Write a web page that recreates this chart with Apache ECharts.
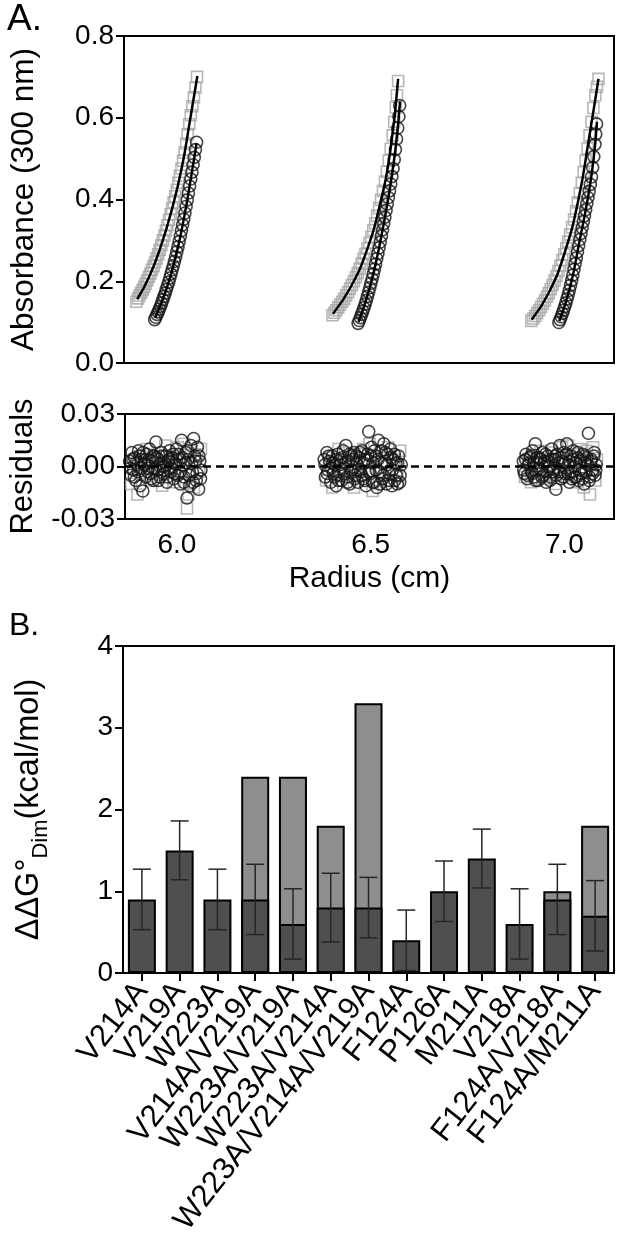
<!DOCTYPE html>
<html><head><meta charset="utf-8">
<script src="https://cdn.jsdelivr.net/npm/echarts@6/dist/echarts.min.js"></script>
<style>html,body{margin:0;padding:0;background:#fff}#c{width:620px;height:1248px}</style>
</head><body><div id="c"></div>
<script>
// ---------- Panel A: absorbance data (radius cm, absorbance) ----------
const sq1 = [[5.898,0.150],[5.902,0.158],[5.906,0.165],[5.910,0.172],[5.914,0.179],[5.918,0.186],[5.922,0.194],[5.926,0.202],[5.930,0.211],[5.934,0.219],[5.938,0.228],[5.942,0.237],[5.946,0.247],[5.950,0.256],[5.954,0.266],[5.958,0.277],[5.962,0.288],[5.966,0.300],[5.970,0.312],[5.974,0.324],[5.978,0.337],[5.982,0.350],[5.986,0.364],[5.990,0.378],[5.994,0.393],[5.998,0.408],[6.002,0.424],[6.006,0.441],[6.010,0.458],[6.014,0.476],[6.018,0.495],[6.022,0.515],[6.026,0.537],[6.030,0.560],[6.034,0.584],[6.038,0.606],[6.042,0.628],[6.046,0.650],[6.050,0.674],[6.054,0.700]];
const ci1 = [[5.945,0.106],[5.948,0.112],[5.951,0.119],[5.954,0.125],[5.957,0.132],[5.960,0.139],[5.963,0.147],[5.966,0.155],[5.969,0.163],[5.972,0.171],[5.975,0.180],[5.978,0.189],[5.981,0.198],[5.984,0.208],[5.987,0.218],[5.990,0.228],[5.993,0.238],[5.996,0.249],[5.999,0.260],[6.002,0.272],[6.005,0.284],[6.008,0.297],[6.011,0.310],[6.014,0.324],[6.017,0.338],[6.020,0.352],[6.023,0.367],[6.026,0.383],[6.029,0.399],[6.032,0.416],[6.035,0.433],[6.038,0.450],[6.041,0.467],[6.044,0.485],[6.047,0.503],[6.050,0.522],[6.053,0.540]];
const sq2 = [[6.403,0.117],[6.408,0.123],[6.413,0.129],[6.418,0.136],[6.423,0.143],[6.428,0.150],[6.433,0.157],[6.438,0.165],[6.443,0.173],[6.448,0.182],[6.453,0.191],[6.458,0.200],[6.463,0.210],[6.468,0.220],[6.473,0.231],[6.478,0.243],[6.483,0.255],[6.488,0.267],[6.493,0.280],[6.498,0.294],[6.503,0.309],[6.508,0.325],[6.513,0.342],[6.518,0.360],[6.523,0.379],[6.528,0.399],[6.533,0.421],[6.538,0.444],[6.543,0.468],[6.548,0.495],[6.553,0.524],[6.558,0.557],[6.562,0.590],[6.566,0.625],[6.569,0.655],[6.572,0.690]];
const ci2 = [[6.469,0.097],[6.472,0.104],[6.475,0.111],[6.478,0.119],[6.481,0.127],[6.484,0.135],[6.487,0.144],[6.490,0.153],[6.493,0.163],[6.496,0.173],[6.499,0.184],[6.502,0.195],[6.505,0.206],[6.508,0.218],[6.511,0.230],[6.514,0.242],[6.517,0.255],[6.520,0.268],[6.523,0.282],[6.526,0.296],[6.529,0.311],[6.532,0.326],[6.535,0.341],[6.538,0.357],[6.541,0.373],[6.544,0.389],[6.547,0.405],[6.550,0.421],[6.553,0.438],[6.556,0.456],[6.559,0.476],[6.562,0.498],[6.565,0.522],[6.568,0.548],[6.571,0.575],[6.574,0.603],[6.576,0.630]];
const sq3 = [[6.915,0.103],[6.920,0.109],[6.925,0.115],[6.930,0.122],[6.935,0.129],[6.940,0.137],[6.945,0.145],[6.950,0.153],[6.955,0.162],[6.960,0.171],[6.965,0.181],[6.970,0.191],[6.975,0.202],[6.980,0.213],[6.985,0.225],[6.990,0.238],[6.995,0.252],[7.000,0.266],[7.005,0.281],[7.010,0.297],[7.015,0.314],[7.020,0.332],[7.025,0.351],[7.030,0.371],[7.035,0.393],[7.040,0.416],[7.045,0.441],[7.050,0.467],[7.055,0.495],[7.060,0.525],[7.065,0.557],[7.070,0.590],[7.075,0.624],[7.080,0.655],[7.084,0.676],[7.088,0.695]];
const ci3 = [[6.986,0.099],[6.989,0.106],[6.992,0.113],[6.995,0.121],[6.998,0.129],[7.001,0.138],[7.004,0.147],[7.007,0.157],[7.010,0.167],[7.013,0.178],[7.016,0.190],[7.019,0.202],[7.022,0.215],[7.025,0.229],[7.028,0.243],[7.031,0.257],[7.034,0.272],[7.037,0.287],[7.040,0.302],[7.043,0.317],[7.046,0.331],[7.049,0.346],[7.052,0.360],[7.055,0.375],[7.058,0.390],[7.061,0.405],[7.064,0.420],[7.067,0.437],[7.070,0.455],[7.073,0.478],[7.076,0.505],[7.079,0.535],[7.081,0.560],[7.083,0.585]];
const fitSq1 = [[5.900,0.156],[5.930,0.209],[5.960,0.283],[5.990,0.378],[6.015,0.478],[6.035,0.588],[6.055,0.702]];
const fitCi1 = [[5.946,0.110],[5.975,0.180],[6.000,0.264],[6.020,0.352],[6.040,0.462],[6.053,0.538]];
const fitSq2 = [[6.404,0.120],[6.450,0.186],[6.490,0.272],[6.524,0.383],[6.552,0.520],[6.572,0.695]];
const fitCi2 = [[6.470,0.100],[6.500,0.188],[6.525,0.292],[6.548,0.410],[6.565,0.522],[6.577,0.640]];
const fitSq3 = [[6.916,0.106],[6.960,0.172],[7.000,0.267],[7.036,0.398],[7.064,0.552],[7.088,0.695]];
const fitCi3 = [[6.987,0.102],[7.015,0.186],[7.040,0.302],[7.060,0.400],[7.075,0.495],[7.084,0.590]];

// ---------- Residuals ----------
const resCi1 = [[5.878,0.003],[5.881,-0.005],[5.884,0.008],[5.888,-0.002],[5.891,0.005],[5.894,-0.008],[5.898,0.001],[5.901,0.009],[5.905,-0.011],[5.908,0.004],[5.912,-0.014],[5.915,0.002],[5.919,-0.006],[5.922,0.007],[5.926,-0.001],[5.929,0.010],[5.933,-0.004],[5.936,0.003],[5.940,-0.008],[5.943,0.006],[5.946,0.014],[5.950,-0.002],[5.953,0.004],[5.957,-0.006],[5.960,0.008],[5.964,0.000],[5.967,-0.004],[5.971,0.006],[5.974,-0.009],[5.978,0.003],[5.981,0.009],[5.985,-0.003],[5.988,0.005],[5.992,-0.007],[5.995,0.002],[5.999,0.010],[6.002,-0.005],[6.006,0.004],[6.009,-0.010],[6.012,0.015],[6.016,0.001],[6.019,-0.006],[6.023,0.008],[6.026,-0.018],[6.029,0.004],[6.033,-0.011],[6.036,0.012],[6.040,-0.003],[6.043,0.016],[6.046,0.006],[6.050,-0.008],[6.053,0.011],[6.056,-0.013],[6.059,0.003],[6.062,-0.002]];
const resCi1b = [[5.880,-0.001],[5.886,0.004],[5.890,-0.006],[5.895,0.002],[5.900,-0.003],[5.904,0.006],[5.909,-0.001],[5.913,0.008],[5.918,0.001],[5.924,-0.003],[5.928,0.004],[5.934,-0.007],[5.938,0.006],[5.944,-0.001],[5.948,0.005],[5.952,-0.008],[5.958,0.002],[5.962,0.006],[5.966,-0.002],[5.972,0.001],[5.976,-0.006],[5.980,0.004],[5.984,-0.001],[5.990,0.007],[5.994,-0.004],[5.998,0.001],[6.004,0.007],[6.008,-0.003],[6.014,0.005],[6.018,-0.009],[6.022,0.002],[6.028,0.009],[6.032,-0.005],[6.038,0.002],[6.042,-0.009],[6.048,0.003],[6.052,-0.004],[6.057,0.006],[6.061,-0.007]];
const resSq1 = [[5.882,-0.010],[5.890,0.004],[5.898,-0.016],[5.906,0.006],[5.914,-0.004],[5.922,0.010],[5.930,-0.008],[5.938,0.002],[5.946,-0.006],[5.954,0.008],[5.962,-0.011],[5.970,0.012],[5.978,-0.002],[5.986,0.005],[5.994,-0.009],[6.002,0.011],[6.010,-0.004],[6.018,0.013],[6.026,-0.024],[6.030,-0.016],[6.036,0.009],[6.044,-0.012],[6.052,0.007],[6.058,-0.003],[6.062,0.010]];
const resCi2 = [[6.380,0.004],[6.383,-0.006],[6.387,0.008],[6.390,-0.002],[6.394,0.003],[6.397,-0.009],[6.401,0.006],[6.404,-0.004],[6.408,0.001],[6.411,-0.011],[6.415,0.007],[6.418,-0.003],[6.422,0.004],[6.425,-0.008],[6.429,0.009],[6.432,-0.001],[6.436,0.012],[6.439,-0.006],[6.443,0.003],[6.446,-0.010],[6.450,0.006],[6.453,-0.002],[6.457,0.008],[6.460,-0.005],[6.464,0.002],[6.467,-0.009],[6.471,0.005],[6.474,-0.003],[6.478,0.009],[6.481,-0.007],[6.485,0.004],[6.488,-0.011],[6.492,0.007],[6.495,0.020],[6.499,-0.004],[6.502,0.011],[6.506,0.002],[6.509,-0.009],[6.513,0.006],[6.516,-0.012],[6.520,0.015],[6.523,-0.003],[6.527,0.009],[6.530,-0.007],[6.534,0.013],[6.537,0.003],[6.541,-0.010],[6.544,0.007],[6.548,-0.004],[6.551,0.010],[6.555,-0.011],[6.558,0.004],[6.562,-0.008],[6.565,0.002],[6.569,-0.010],[6.572,0.006],[6.576,-0.005],[6.579,0.001]];
const resCi2b = [[6.382,0.001],[6.388,-0.004],[6.392,0.006],[6.398,-0.001],[6.402,0.002],[6.407,-0.006],[6.412,0.004],[6.417,-0.008],[6.421,0.001],[6.426,0.005],[6.431,-0.004],[6.435,0.002],[6.440,-0.009],[6.445,0.007],[6.449,-0.002],[6.454,0.004],[6.459,-0.007],[6.463,0.006],[6.468,-0.002],[6.472,0.008],[6.477,-0.005],[6.482,0.002],[6.486,-0.008],[6.491,0.004],[6.496,-0.003],[6.500,0.006],[6.505,-0.009],[6.510,0.009],[6.514,-0.002],[6.519,0.004],[6.524,-0.010],[6.528,0.002],[6.533,-0.005],[6.538,0.008],[6.542,0.001],[6.547,-0.008],[6.552,0.005],[6.556,-0.002],[6.561,0.007],[6.566,-0.005],[6.570,0.002],[6.575,-0.009]];
const resSq2 = [[6.385,-0.008],[6.393,0.005],[6.401,-0.012],[6.409,0.002],[6.417,0.010],[6.425,-0.005],[6.433,0.008],[6.441,-0.009],[6.449,0.003],[6.457,-0.012],[6.465,0.007],[6.473,-0.006],[6.481,0.010],[6.489,-0.003],[6.497,0.013],[6.505,-0.014],[6.513,0.005],[6.521,-0.010],[6.529,0.008],[6.537,-0.004],[6.545,0.011],[6.553,-0.008],[6.561,0.004],[6.569,-0.006],[6.576,0.009]];
const resCi3 = [[6.894,0.003],[6.897,-0.004],[6.901,0.007],[6.904,-0.007],[6.908,0.001],[6.911,0.005],[6.915,-0.003],[6.918,0.009],[6.922,-0.006],[6.925,0.013],[6.929,0.002],[6.932,-0.008],[6.936,0.005],[6.939,-0.002],[6.943,0.008],[6.946,-0.005],[6.950,0.003],[6.953,-0.009],[6.957,0.006],[6.960,0.000],[6.964,-0.006],[6.967,0.010],[6.971,-0.003],[6.974,0.004],[6.978,-0.013],[6.981,0.007],[6.985,-0.002],[6.988,0.012],[6.992,-0.007],[6.995,0.003],[6.999,0.008],[7.002,-0.004],[7.006,0.013],[7.009,0.001],[7.013,-0.009],[7.016,0.006],[7.020,-0.003],[7.023,0.009],[7.027,-0.006],[7.030,0.002],[7.034,0.005],[7.037,-0.008],[7.041,0.003],[7.044,-0.004],[7.048,0.007],[7.051,-0.010],[7.055,0.002],[7.058,0.005],[7.062,0.019],[7.065,-0.006],[7.069,0.004],[7.072,-0.002],[7.076,0.006],[7.079,-0.005],[7.082,0.001]];
const resCi3b = [[6.895,-0.002],[6.900,0.004],[6.905,-0.005],[6.909,0.002],[6.913,0.006],[6.917,-0.004],[6.921,0.002],[6.926,-0.008],[6.930,0.005],[6.934,-0.001],[6.938,0.004],[6.942,-0.006],[6.947,0.002],[6.951,0.007],[6.955,-0.003],[6.959,0.003],[6.963,-0.008],[6.968,0.004],[6.972,-0.001],[6.976,0.006],[6.980,-0.005],[6.984,0.002],[6.989,-0.003],[6.993,0.005],[6.997,-0.006],[7.001,0.002],[7.005,0.007],[7.010,-0.004],[7.014,0.003],[7.018,-0.007],[7.022,0.004],[7.026,0.000],[7.031,-0.006],[7.035,0.008],[7.039,-0.002],[7.043,0.004],[7.047,-0.007],[7.052,0.006],[7.056,-0.003],[7.060,0.001],[7.064,-0.008],[7.068,0.003],[7.073,-0.004],[7.077,0.008],[7.081,-0.002]];
const resSq3 = [[6.898,-0.006],[6.906,0.004],[6.914,-0.009],[6.922,0.006],[6.930,-0.002],[6.938,0.009],[6.946,-0.007],[6.954,0.003],[6.962,-0.005],[6.970,0.008],[6.978,-0.010],[6.986,0.004],[6.994,0.011],[7.002,-0.006],[7.010,0.012],[7.018,-0.003],[7.026,0.007],[7.034,-0.009],[7.042,0.010],[7.050,-0.012],[7.058,0.009],[7.066,-0.016],[7.074,0.011],[7.080,-0.008],[7.084,0.004]];
const radiusTicks = [6.0, 6.5, 7.0];

// ---------- Panel B ----------
const mutants = ['V214A','V219A','W223A','V214A/V219A','W223A/V219A','W223A/V214A','W223A/V214A/V219A','F124A','P126A','M211A','V218A','F124A/V218A','F124A/M211A'];
const ddgMeasured = [0.9,1.5,0.9,0.9,0.6,0.8,0.8,0.4,1.0,1.4,0.6,0.9,0.7];
const ddgAdditive = [null,null,null,2.4,2.4,1.8,3.3,null,null,null,null,1.0,1.8];
const ddgError = [0.37,0.36,0.37,0.43,0.43,0.42,0.37,0.37,0.37,0.36,0.43,0.43,0.43];

const FONT = "'Liberation Sans', Arial, sans-serif";
const chart = echarts.init(document.getElementById('c'), null, {renderer:'canvas'});

const sqStyle = {symbol:'rect', symbolSize:11, itemStyle:{color:'rgba(0,0,0,0)', borderColor:'#a5a5a5', borderWidth:1.6}};
const ciStyle = {symbol:'circle', symbolSize:12, itemStyle:{color:'rgba(0,0,0,0)', borderColor:'#151515', borderWidth:1.6}};
function scat(data, style, xi, yi, z) {
  return Object.assign({type:'scatter', data, xAxisIndex:xi, yAxisIndex:yi, z, silent:true, animation:false, large:false}, style);
}
function fit(data) {
  return {type:'line', data, xAxisIndex:0, yAxisIndex:0, smooth:true, showSymbol:false, symbol:'none', z:5,
    lineStyle:{color:'#000', width:2.5}, animation:false, silent:true};
}

const errData = ddgMeasured.map((v,i)=>[i, v-ddgError[i], v+ddgError[i]]);

const axisLineStyle = {lineStyle:{color:'#000', width:2}};
const tickStyle = {show:true, length:8, lineStyle:{color:'#000', width:2}};
const labStyle = {color:'#000', fontSize:28, fontFamily:FONT};

const option = {
  animation:false,
  textStyle:{fontFamily:FONT},
  graphic:[
    {type:'text', left:7, top:1, style:{text:'A.', fontSize:37, fontFamily:FONT, fill:'#000'}},
    {type:'text', left:9, top:610, style:{text:'B.', fontSize:32, fontFamily:FONT, fill:'#000'}}
  ],
  grid:[
    {left:123, right:6, top:36, height:327, show:true, borderColor:'#000', borderWidth:2},
    {left:123, right:6, top:414, height:105, show:true, borderColor:'#000', borderWidth:2},
    {left:123, right:6, top:646, height:327, show:true, borderColor:'#000', borderWidth:2}
  ],
  xAxis:[
    {type:'value', gridIndex:0, min:5.866, max:7.128, axisLine:{show:false}, axisTick:{show:false}, axisLabel:{show:false}, splitLine:{show:false}},
    {type:'value', gridIndex:1, min:5.866, max:7.128, axisLine:{show:false}, axisTick:{show:false}, splitLine:{show:false},
      axisLabel:Object.assign({customValues:radiusTicks, margin:12, formatter:v=>v.toFixed(1)}, labStyle),
      name:'Radius (cm)', nameLocation:'middle', nameGap:45, nameTextStyle:{fontSize:30, color:'#000', fontFamily:FONT}},
    {type:'category', gridIndex:2, data:mutants, axisLine:axisLineStyle, axisTick:Object.assign({alignWithLabel:true}, tickStyle),
      axisLabel:{rotate:52, margin:13, interval:0, color:'#000', fontSize:31, fontFamily:FONT}}
  ],
  yAxis:[
    {type:'value', gridIndex:0, min:0, max:0.8, interval:0.2, axisLine:axisLineStyle, axisTick:tickStyle, splitLine:{show:false},
      axisLabel:Object.assign({margin:10, formatter:v=>v.toFixed(1)}, labStyle),
      name:'Absorbance (300 nm)', nameLocation:'middle', nameGap:84, nameRotate:90, nameTextStyle:{fontSize:31.5, color:'#000', fontFamily:FONT}},
    {type:'value', gridIndex:1, min:-0.03, max:0.03, interval:0.03, axisLine:axisLineStyle, axisTick:tickStyle, splitLine:{show:false},
      axisLabel:Object.assign({margin:10, formatter:v=>v.toFixed(2)}, labStyle),
      name:'Residuals', nameLocation:'middle', nameGap:86, nameRotate:90, nameTextStyle:{fontSize:31, color:'#000', fontFamily:FONT}},
    {type:'value', gridIndex:2, min:0, max:4, interval:1, axisLine:axisLineStyle, axisTick:tickStyle, splitLine:{show:false},
      axisLabel:Object.assign({margin:10}, labStyle),
      name:'{m|ΔΔG°}{s|Dim}{m|(kcal/mol)}', nameLocation:'middle', nameGap:78, nameRotate:90,
      nameTextStyle:{color:'#000', fontFamily:FONT, rich:{
        m:{fontSize:32.5, lineHeight:32, verticalAlign:'top', fontFamily:FONT, color:'#000'},
        s:{fontSize:22, lineHeight:22, verticalAlign:'top', padding:[17,0,0,0], fontFamily:FONT, color:'#000'}}}}
  ],
  series:[
    scat(sq1, sqStyle, 0, 0, 2), scat(sq2, sqStyle, 0, 0, 2), scat(sq3, sqStyle, 0, 0, 2),
    scat(ci1, ciStyle, 0, 0, 3), scat(ci2, ciStyle, 0, 0, 3), scat(ci3, ciStyle, 0, 0, 3),
    fit(fitSq1), fit(fitCi1), fit(fitSq2), fit(fitCi2), fit(fitSq3), fit(fitCi3),
    scat(resSq1, sqStyle, 1, 1, 2), scat(resSq2, sqStyle, 1, 1, 2), scat(resSq3, sqStyle, 1, 1, 2),
    scat(resCi1, ciStyle, 1, 1, 3), scat(resCi2, ciStyle, 1, 1, 3), scat(resCi3, ciStyle, 1, 1, 3),
    scat(resCi1b, ciStyle, 1, 1, 3), scat(resCi2b, ciStyle, 1, 1, 3), scat(resCi3b, ciStyle, 1, 1, 3),
    {type:'line', xAxisIndex:1, yAxisIndex:1, data:[], z:6, silent:true,
      markLine:{silent:true, symbol:['none','none'], label:{show:false}, animation:false,
        lineStyle:{color:'#000', width:2.5, type:[8,5]}, data:[{yAxis:0}]}},
    {type:'bar', xAxisIndex:2, yAxisIndex:2, data:ddgAdditive, barWidth:28, barGap:'-100%', z:2,
      itemStyle:{color:'#8e8e8e', borderColor:'#000', borderWidth:2}},
    {type:'bar', xAxisIndex:2, yAxisIndex:2, data:ddgMeasured, barWidth:28, barGap:'-100%', z:3,
      itemStyle:{color:'#4f4f4f', borderColor:'#000', borderWidth:2}},
    {type:'custom', xAxisIndex:2, yAxisIndex:2, data:errData, z:10, encode:{x:0, y:[1,2]},
      renderItem:function(params, api){
        const i = api.value(0);
        const lo = api.coord([i, api.value(1)]);
        const hi = api.coord([i, api.value(2)]);
        const hw = 9;
        const st = {stroke:'#262626', lineWidth:1.5};
        return {type:'group', children:[
          {type:'line', shape:{x1:lo[0], y1:lo[1], x2:hi[0], y2:hi[1]}, style:st},
          {type:'line', shape:{x1:hi[0]-hw, y1:hi[1], x2:hi[0]+hw, y2:hi[1]}, style:st},
          {type:'line', shape:{x1:lo[0]-hw, y1:lo[1], x2:lo[0]+hw, y2:lo[1]}, style:st}
        ]};
      }}
  ]
};
chart.setOption(option);
</script>
</body></html>
